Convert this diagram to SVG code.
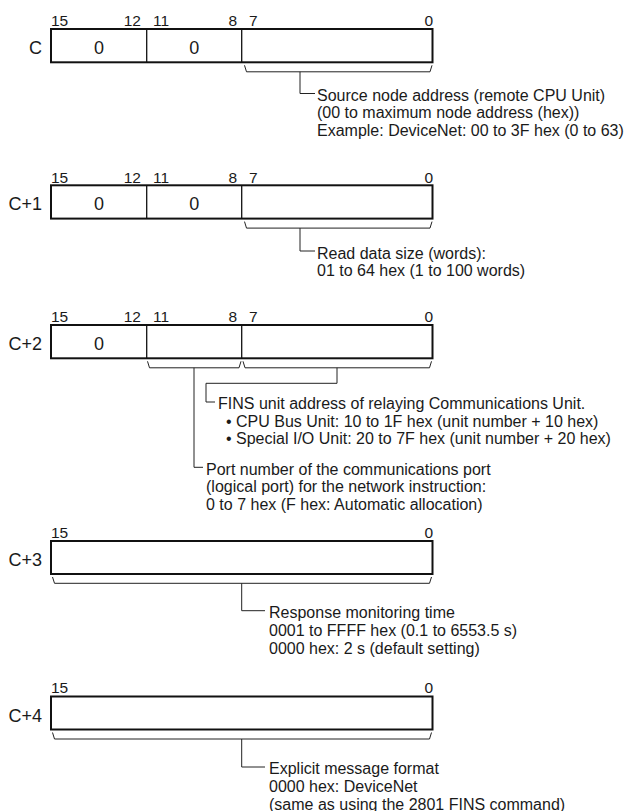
<svg xmlns="http://www.w3.org/2000/svg" width="624" height="811" viewBox="0 0 624 811">
<style>
text{font-family:"Liberation Sans",Arial,sans-serif;fill:#1a1a1a}
.bit{font-size:15.5px}
.bitr{font-size:15.5px;text-anchor:end}
.lbl{font-size:18px;text-anchor:end}
.val{font-size:18px;text-anchor:middle}
.desc{font-size:16px}
.box{fill:#fff;stroke:#111;stroke-width:2}
.div{stroke:#111;stroke-width:1.3}
#connectors path{fill:none;stroke:#222;stroke-width:1}
</style>
<rect width="624" height="811" fill="#fff"/>
<g id="word-C">
<text class="bit" x="51" y="26">15</text><text class="bitr" x="141" y="26">12</text><text class="bit" x="153" y="26">11</text><text class="bitr" x="237" y="26">8</text><text class="bit" x="249" y="26">7</text><text class="bitr" x="433" y="26">0</text>
<text class="lbl" x="42" y="53.5">C</text>
<rect class="box" x="51" y="29" width="381.5" height="33.3"/>
<line class="div" x1="146.7" y1="29" x2="146.7" y2="62.3"/><line class="div" x1="241.7" y1="29" x2="241.7" y2="62.3"/>
<text class="val" x="99" y="53.5">0</text><text class="val" x="194.2" y="53.5">0</text>
</g>
<g id="desc-C">
<text class="desc" x="317" y="100.5">Source node address (remote CPU Unit)</text>
<text class="desc" x="317" y="118.2">(00 to maximum node address (hex))</text>
<text class="desc" x="317" y="135.9">Example: DeviceNet: 00 to 3F hex (0 to 63)</text>
</g>
<g id="word-C1">
<text class="bit" x="51" y="182.5">15</text><text class="bitr" x="141" y="182.5">12</text><text class="bit" x="153" y="182.5">11</text><text class="bitr" x="237" y="182.5">8</text><text class="bit" x="249" y="182.5">7</text><text class="bitr" x="433" y="182.5">0</text>
<text class="lbl" x="42" y="210">C+1</text>
<rect class="box" x="51" y="185.3" width="381.5" height="33.3"/>
<line class="div" x1="146.7" y1="185.3" x2="146.7" y2="218.6"/><line class="div" x1="241.7" y1="185.3" x2="241.7" y2="218.6"/>
<text class="val" x="99" y="210">0</text><text class="val" x="194.2" y="210">0</text>
</g>
<g id="desc-C1">
<text class="desc" x="317" y="258.5">Read data size (words):</text>
<text class="desc" x="317" y="276.2">01 to 64 hex (1 to 100 words)</text>
</g>
<g id="word-C2">
<text class="bit" x="51" y="322.2">15</text><text class="bitr" x="141" y="322.2">12</text><text class="bit" x="153" y="322.2">11</text><text class="bitr" x="237" y="322.2">8</text><text class="bit" x="249" y="322.2">7</text><text class="bitr" x="433" y="322.2">0</text>
<text class="lbl" x="42" y="350">C+2</text>
<rect class="box" x="51" y="325" width="381.5" height="33.3"/>
<line class="div" x1="146.7" y1="325" x2="146.7" y2="358.3"/><line class="div" x1="241.7" y1="325" x2="241.7" y2="358.3"/>
<text class="val" x="99" y="350">0</text>
</g>
<g id="desc-C2-fins">
<text class="desc" x="218" y="409">FINS unit address of relaying Communications Unit.</text>
<text class="desc" x="226" y="426.7">• CPU Bus Unit: 10 to 1F hex (unit number + 10 hex)</text>
<text class="desc" x="226" y="444.4">• Special I/O Unit: 20 to 7F hex (unit number + 20 hex)</text>
</g>
<g id="desc-C2-port">
<text class="desc" x="206" y="474.5">Port number of the communications port</text>
<text class="desc" x="206" y="492.2">(logical port) for the network instruction:</text>
<text class="desc" x="206" y="509.9">0 to 7 hex (F hex: Automatic allocation)</text>
</g>
<g id="word-C3">
<text class="bit" x="51" y="537.5">15</text><text class="bitr" x="433" y="537.5">0</text>
<text class="lbl" x="42" y="566">C+3</text>
<rect class="box" x="51" y="541" width="381.5" height="33"/>
</g>
<g id="desc-C3">
<text class="desc" x="269" y="617.5">Response monitoring time</text>
<text class="desc" x="269" y="635.5">0001 to FFFF hex (0.1 to 6553.5 s)</text>
<text class="desc" x="269" y="653.5">0000 hex: 2 s (default setting)</text>
</g>
<g id="word-C4">
<text class="bit" x="51" y="693.3">15</text><text class="bitr" x="433" y="693.3">0</text>
<text class="lbl" x="42" y="721.5">C+4</text>
<rect class="box" x="51" y="696.5" width="381.5" height="33"/>
</g>
<g id="desc-C4">
<text class="desc" x="269" y="773.5">Explicit message format</text>
<text class="desc" x="269" y="791.5">0000 hex: DeviceNet</text>
<text class="desc" x="269" y="809.5">(same as using the 2801 FINS command)</text>
</g>
<g id="connectors">
<path d="M244.5,65.3 L246.5,71.8 H430 L432,65.3"/>
<path d="M300,71.8 V93.5 H315"/>
<path d="M244.5,221.6 L246.5,228.1 H430 L432,221.6"/>
<path d="M300,228.1 V251 H315"/>
<path d="M147.5,361.3 L149.5,367.8 H239 L241,361.3"/>
<path d="M243,361.3 L245,367.8 H429.5 L431.5,361.3"/>
<path d="M337,367.8 V383.3 H206 V402 H215"/>
<path d="M194,367.8 V467.3 H203"/>
<path d="M52.5,577 L54.5,583.3 H429.5 L431.5,577"/>
<path d="M241.7,583.3 V610.7 H265"/>
<path d="M52.5,732.5 L54.5,739 H429.5 L431.5,732.5"/>
<path d="M241.7,739 V767 H265"/>
</g>
</svg>
